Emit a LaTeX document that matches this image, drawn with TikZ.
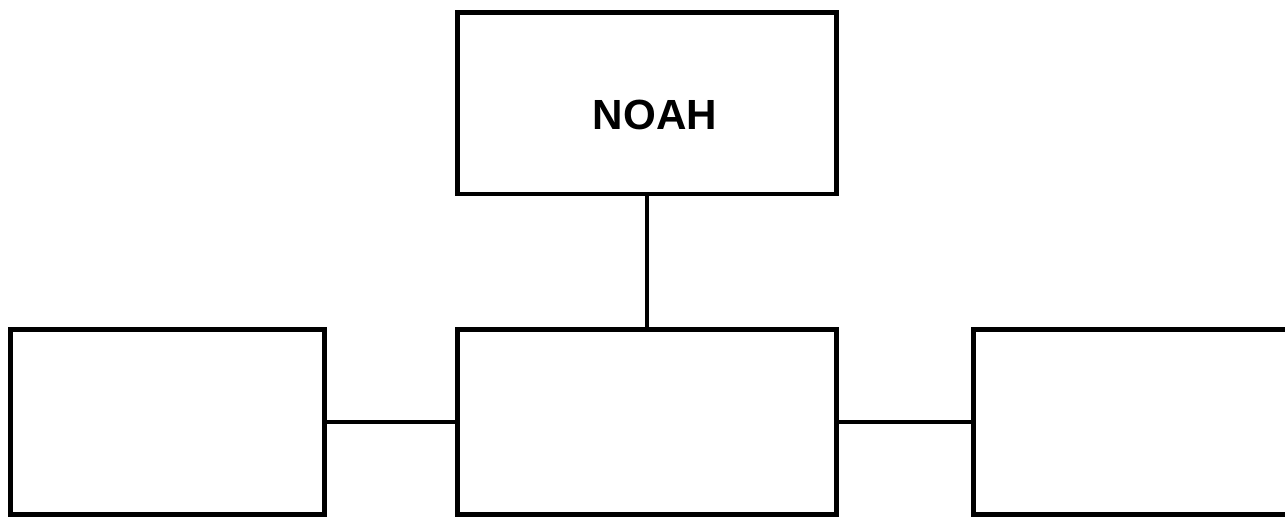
\documentclass[tikz,border=0pt]{standalone}
\usepackage{fontspec}
\setmainfont{Liberation Sans}
\usepackage{tikz}
\usetikzlibrary{arrows}

\begin{document}
\begin{tikzpicture}
 \tikzstyle{unit}=[draw,line width=2.8pt,inner sep=0pt,minimum height=3.69cm]
  \useasboundingbox (0,0) rectangle (25.7,-10.42);
  \node[unit, minimum width=7.58cm, minimum height=3.63cm] at (12.94,-2.065) (NOAH) {};
  \node[font=\bfseries\fontsize{24}{28}\selectfont, inner sep=0pt] at (13.1,-2.3) (NOAHtxt) {NOAH};
  \node[unit, minimum width=6.28cm] at (3.35,-8.44) (LEFT) {};
  \node[unit, minimum width=7.58cm] at (12.94,-8.44) (MID) {};
  \node[unit, minimum width=6.32cm] at (22.63,-8.44) (RIGHT) {};
  \draw[line width=2.8pt] (NOAH.south) -- (MID.north);
  \draw[line width=2.8pt] (LEFT.east) -- (MID.west);
  \draw[line width=2.8pt] (MID.east) -- (RIGHT.west);
\end{tikzpicture}
\end{document}
